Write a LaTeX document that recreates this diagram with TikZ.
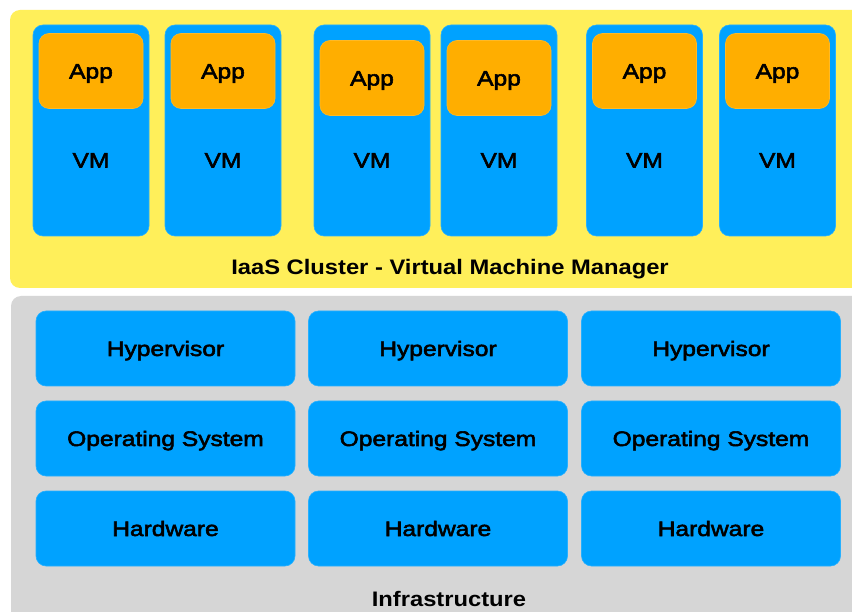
\documentclass[tikz,border=0pt]{standalone}
\usepackage{fontspec}
\newfontfamily\boxfont{Liberation Sans}[FakeStretch=1.17,FakeBold=2.6]
\newfontfamily\titlefont{Liberation Sans}[FakeStretch=1.13]
\definecolor{panelyellow}{HTML}{FFEF5A}
\definecolor{panelgray}{HTML}{D6D6D6}
\definecolor{vmblue}{HTML}{00A2FF}
\definecolor{apporange}{HTML}{FFAE00}
\tikzset{
  panel/.style={rounded corners=10pt},
  txt/.style={font=\boxfont\fontsize{21}{24}\selectfont, text=black,
    text height=15pt, text depth=0pt},
  vmbox/.style={fill=vmblue, draw=vmblue!85!white, line width=0.6pt, rounded corners=10pt,
    minimum width=116pt, minimum height=211pt, inner sep=0pt},
  appbox/.style={fill=apporange, draw=apporange!85!white, line width=0.6pt, rounded corners=10pt,
    minimum width=104pt, minimum height=75pt, inner sep=0pt, txt},
  layerbox/.style={fill=vmblue, draw=vmblue!85!white, line width=0.6pt, rounded corners=10pt,
    minimum width=259pt, minimum height=75pt, inner sep=0pt, txt},
  paneltitle/.style={font=\titlefont\bfseries\fontsize{21}{24}\selectfont, text=black,
    inner sep=0pt, text height=15pt, text depth=0pt}
}
\begin{document}
\begin{tikzpicture}[x=1pt,y=-1pt]
\path[use as bounding box] (0,0) rectangle (852,612);
\fill[white] (0,0) rectangle (852,612);
\clip (0,0) rectangle (852,612);

% cluster panel and infrastructure panel
\fill[panelyellow, panel] (10,10) rectangle (880,288);
\fill[panelgray, panel] (11,296) rectangle (880,650);

% virtual machines with their applications
\foreach \n/\cx/\ay in {1/91/71, 2/223/71, 3/372/78, 4/499/78, 5/644.5/71, 6/777.5/71}{
  \node[vmbox, label={[txt, inner sep=0pt, yshift=-29.5pt]center:VM}] (vm\n) at (\cx,130.5) {};
  \node[appbox] (app\n) at (\cx,\ay) {App};
}
\node[paneltitle] (cluster) at (450,267) {IaaS Cluster - Virtual Machine Manager};

% physical hosts: hypervisor on operating system on hardware
\foreach \c/\cx in {1/165.5, 2/438, 3/711}{
  \node[layerbox] (hyp\c) at (\cx,348.5) {Hypervisor};
  \node[layerbox] (os\c)  at (\cx,438.5) {Operating System};
  \node[layerbox] (hw\c)  at (\cx,528.5) {Hardware};
}
\node[paneltitle] (infra) at (449,599) {Infrastructure};
\end{tikzpicture}
\end{document}
